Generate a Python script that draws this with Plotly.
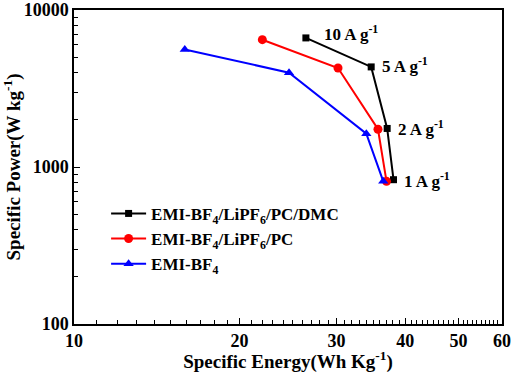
import numpy as np
import plotly.graph_objects as go

series_names = ["EMI-BF<sub>4</sub>/LiPF<sub>6</sub>/PC/DMC",
                "EMI-BF<sub>4</sub>/LiPF<sub>6</sub>/PC",
                "EMI-BF<sub>4</sub>"]
energy_dmc = [26.4, 34.7, 37.1, 38.1]
power_dmc = [6640, 4340, 1760, 830]
energy_pc = [22.0, 30.2, 35.7, 37.0]
power_pc = [6470, 4270, 1740, 810]
energy_emi = [15.9, 24.6, 34.0, 36.5]
power_emi = [5600, 3990, 1630, 810]
current_labels = ["10 A g<sup>-1</sup>", "5 A g<sup>-1</sup>", "2 A g<sup>-1</sup>", "1 A g<sup>-1</sup>"]
x_ticks = [10, 20, 30, 40, 50, 60]
y_ticks = [100, 1000, 10000]

font = "Liberation Serif"
fig = go.Figure()
specs = [
    (energy_dmc, power_dmc, "black", "square", 7),
    (energy_pc, power_pc, "#ff0000", "circle", 9),
    (energy_emi, power_emi, "#0000ff", "triangle-up", 9),
]
for name, (ex, py, col, sym, sz) in zip(series_names, specs):
    fig.add_trace(go.Scatter(x=ex, y=py, mode="lines+markers", name="<b>" + name + "</b>",
                             line=dict(color=col, width=2),
                             marker=dict(symbol=sym, size=sz, color=col)))

xshifts = [16, 9, 9, 8]
yshifts = [5, 2, 0, 0]
for lbl, ex, py, xs, ys in zip(current_labels, energy_dmc, power_dmc, xshifts, yshifts):
    fig.add_annotation(x=np.log10(ex), y=np.log10(py), text="<b>" + lbl + "</b>",
                       showarrow=False, xanchor="left", yanchor="middle",
                       xshift=xs, yshift=ys, font=dict(family=font, size=17, color="black"))

minor_x = [v for v in range(11, 60) if v % 10 != 0]
minor_y = [m * 10 ** e for e in (2, 3) for m in range(2, 10)]

fig.update_layout(
    width=512, height=373,
    margin=dict(l=74, r=10, t=10, b=49, autoexpand=False),
    paper_bgcolor="white", plot_bgcolor="white",
    font=dict(family=font, size=17, color="black"),
    showlegend=True,
    legend=dict(x=0.075, y=0.408, xanchor="left", yanchor="top",
                bgcolor="rgba(0,0,0,0)", font=dict(family=font, size=17),
                tracegroupgap=0, itemwidth=35),
)
fig.update_xaxes(type="log", range=[1, np.log10(60)], automargin=False,
                 ticklabeloverflow="allow",
                 tickvals=x_ticks, ticktext=["<b>%d</b>" % v for v in x_ticks],
                 ticks="inside", ticklen=6, tickwidth=1, tickcolor="black",
                 minor=dict(tickvals=minor_x, ticks="inside", ticklen=4, tickcolor="black"),
                 showline=True, linecolor="black", linewidth=1.5, mirror=True,
                 showgrid=False, zeroline=False,
                 tickfont=dict(family=font, size=18),
                 title=dict(text="<b>Specific Energy(Wh Kg<sup>-1</sup>)</b>",
                            font=dict(family=font, size=19), standoff=0))
fig.update_yaxes(type="log", range=[2, 4], automargin=False,
                 ticklabeloverflow="allow",
                 tickvals=y_ticks, ticktext=["<b>%d</b>" % v for v in y_ticks],
                 ticks="inside", ticklen=6, tickwidth=1, tickcolor="black",
                 minor=dict(tickvals=minor_y, ticks="inside", ticklen=4, tickcolor="black"),
                 showline=True, linecolor="black", linewidth=1.5, mirror=True,
                 showgrid=False, zeroline=False,
                 tickfont=dict(family=font, size=18),
                 title=dict(text="<b>Specific Power(W kg<sup>-1</sup>)</b>",
                            font=dict(family=font, size=19), standoff=4))

fig.write_html("out.html", config={"displayModeBar": False},
               post_script="document.body.style.margin='0px';")
